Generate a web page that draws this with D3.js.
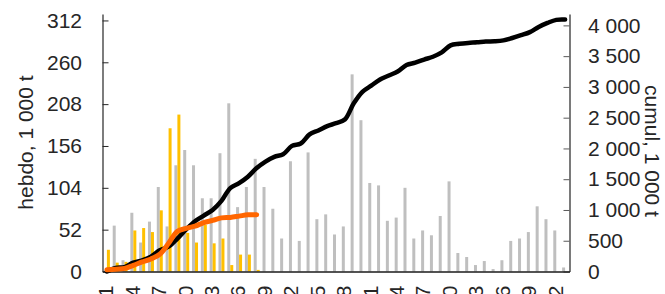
<!DOCTYPE html>
<html>
<head>
<meta charset="utf-8">
<script src="https://cdn.jsdelivr.net/npm/d3@7"></script>
<style>
  body { margin: 0; background: #fff; }
  text { font-family: "Liberation Sans", Arial, sans-serif; }
</style>
</head>
<body>
<svg id="chart" width="665" height="294"></svg>
<script>
//weeks (categories) and the labelled ones
let weeks = [1, 2, 3, 4, 5, 6, 7, 8, 9, 10, 11, 12, 13, 14, 15, 16, 17, 18, 19, 20,
  21, 22, 23, 24, 25, 26, 27, 28, 29, 30, 31, 32, 33, 34, 35, 36, 37, 38, 39, 40,
  41, 42, 43, 44, 45, 46, 47, 48, 49, 50, 51, 52, 53];
let weekTicks = [1, 4, 7, 10, 13, 16, 19, 22, 25, 28, 31, 34, 37, 40, 43, 46, 49, 52];

//weekly tonnage, 1 000 t (grey = previous campaign, yellow = current)
let hebdoPrev = [0, 57, 14, 73, 36, 62, 105, 56, 132, 151, 132, 91, 91, 147, 209, 80, 105, 140, 105, 78,
  41, 137, 38, 148, 65, 71, 46, 56, 245, 188, 110, 107, 63, 67, 104, 41, 51, 45, 69, 112,
  23, 18, 8, 13, 3, 14, 38, 41, 49, 81, 65, 51, 5];
let hebdoCur = [27, 11, 12, 51, 54, 49, 76, 178, 195, 48, 36, 58, 35, 41, 8, 21, 21, 2];

//cumulated tonnage, 1 000 t
let cumulPrev = [0, 57, 71, 144, 180, 242, 347, 403, 535, 686, 818, 909, 1000, 1147, 1356, 1436, 1541, 1681, 1786, 1864,
  1905, 2042, 2080, 2228, 2293, 2364, 2410, 2470, 2730, 2920, 3020, 3120, 3185, 3250, 3355, 3395, 3445, 3490, 3560, 3675,
  3700, 3715, 3725, 3738, 3742, 3756, 3795, 3840, 3890, 3975, 4040, 4090, 4095];
let cumulCur = [27, 38, 50, 101, 155, 204, 280, 458, 653, 701, 737, 795, 830, 871, 879, 900, 921, 923];

//axis ticks
let leftTicks = [0, 52, 104, 156, 208, 260, 312];
let rightTicks = [0, 500, 1000, 1500, 2000, 2500, 3000, 3500, 4000];

let plot = { left: 102.5, right: 569.5, top: 14, bottom: 271.5 };
let textColor = "#262626";
let fontSize = "21px";

const svg = d3.select("#chart");

let xScale = d3.scaleBand().
domain(weeks).
range([plot.left, plot.right]).
padding(0);
let yScale = d3.scaleLinear().domain([0, 320]).range([plot.bottom, plot.top]);
let y2Scale = d3.scaleLinear().domain([0, 4185]).range([plot.bottom, plot.top]);

let bw = xScale.bandwidth();
let barW = bw * 0.34;
let barOff = (bw - 2 * barW) / 2;

//bars
svg.append("g").
selectAll("rect").
data(weeks.map((w, i) => ({ w: w, v: hebdoPrev[i] }))).
enter().
append("rect").
attr("x", d => xScale(d.w) + barOff).
attr("y", d => yScale(d.v)).
attr("width", barW).
attr("height", d => yScale(0) - yScale(d.v)).
attr("fill", "#bfbfbf");

svg.append("g").
selectAll("rect").
data(hebdoCur.map((v, i) => ({ w: weeks[i], v: v }))).
enter().
append("rect").
attr("x", d => xScale(d.w) + barOff + barW).
attr("y", d => yScale(d.v)).
attr("width", barW).
attr("height", d => yScale(0) - yScale(d.v)).
attr("fill", "#ffc000");

//axes
let leftAxis = d3.axisLeft(yScale).
tickValues(leftTicks).
tickSize(-6).
tickSizeOuter(0).
tickPadding(20.5);

let gl = svg.append("g").
attr("transform", "translate(" + plot.left + ",0)").
call(leftAxis);
gl.select(".domain").attr("stroke", "#262626").attr("stroke-width", 1.2);
gl.selectAll("line").attr("stroke", "#262626");

let rightAxis = d3.axisRight(y2Scale).
tickValues(rightTicks).
tickSize(-6).
tickSizeOuter(0).
tickPadding(18.5).
tickFormat(d => d3.format(",")(d).replace(",", " "));

let gr = svg.append("g").
attr("transform", "translate(" + plot.right + ",0)").
call(rightAxis);
gr.select(".domain").attr("stroke", "#595959").attr("stroke-width", 1.6);
gr.selectAll("line").attr("stroke", "#595959");

let bottomAxis = d3.axisBottom(xScale).
tickValues(weekTicks).
tickSize(0).
tickSizeOuter(0);

let gb = svg.append("g").
attr("transform", "translate(0," + plot.bottom + ")").
call(bottomAxis);
gb.select(".domain").attr("stroke", "#1a1a1a").attr("stroke-width", 1.6);
gb.selectAll("text").
attr("transform", "rotate(-90)").
attr("text-anchor", "end").
attr("x", -14).
attr("y", 0).
attr("dy", "0.3em");

svg.selectAll(".tick text").
attr("fill", textColor).
style("font-size", fontSize).
style("font-family", "'Liberation Sans', Arial, sans-serif");

//cumul lines
let line = d3.line().
x(d => xScale(d.w) + bw / 2).
y(d => y2Scale(d.v)).
curve(d3.curveCatmullRom.alpha(0.5));

svg.append("path").
datum(cumulPrev.map((v, i) => ({ w: weeks[i], v: v }))).
attr("d", line).
attr("fill", "none").
attr("stroke", "#000").
attr("stroke-width", 4.5).
attr("stroke-linecap", "round").
attr("stroke-linejoin", "round");

svg.append("path").
datum(cumulCur.map((v, i) => ({ w: weeks[i], v: v }))).
attr("d", line).
attr("fill", "none").
attr("stroke", "#ff6600").
attr("stroke-width", 5).
attr("stroke-linecap", "round").
attr("stroke-linejoin", "round");

//axis titles
svg.append("text").
attr("transform", "translate(33,142.5) rotate(-90)").
attr("text-anchor", "middle").
attr("fill", textColor).
style("font-size", fontSize).
text("hebdo, 1 000 t");

svg.append("text").
attr("transform", "translate(645,151) rotate(90)").
attr("text-anchor", "middle").
attr("fill", textColor).
style("font-size", fontSize).
text("cumul, 1 000 t");
</script>
</body>
</html>
